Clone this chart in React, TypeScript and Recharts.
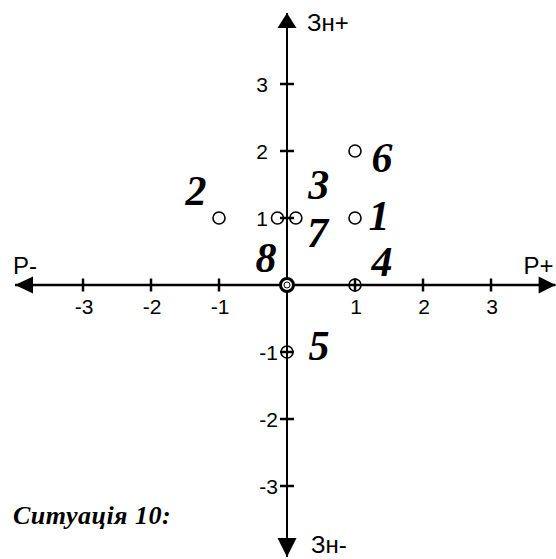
import React from 'react';
import { ScatterChart, Scatter, XAxis, YAxis } from 'recharts';

// tick values on both axes (0 is the crossing, no tick there)
const xTickValues = [-3, -2, -1, 1, 2, 3];
const yTickValues = [-3, -2, -1, 1, 2, 3];

// situation points
const pointNames = ['1', '2', '3', '4', '5', '6', '7', '8'];
const pointX = [1, -1, 0.13, 1, 0, 1, -0.14, 0];
const pointY = [1, 1, 1, 0, -1, 2, 1, 0];

// axis ends (arrow tips) and their names
const axisEndDirs = ['left', 'right', 'up', 'down'];
const axisEndX = [-4.0, 3.95, 0, 0];
const axisEndY = [0, 0, 4.06, -4.06];
const axisNames = ['Р-', 'Р+', 'Зн+', 'Зн-'];

const caption = 'Ситуація 10:';

const W = 556;
const H = 559;

const points = pointNames.map((name, i) => ({ name, x: pointX[i], y: pointY[i] }));
const xTicks = xTickValues.map((v) => ({ x: v, y: 0, label: String(v) }));
const yTicks = yTickValues.map((v) => ({ x: 0, y: v, label: String(v) }));
const axisEnds = axisEndDirs.map((dir, i) => ({ dir, x: axisEndX[i], y: axisEndY[i], name: axisNames[i] }));
const hLine = [axisEnds[0], axisEnds[1]];
const vLine = [axisEnds[2], axisEnds[3]];

const sans = '"Liberation Sans", Arial, sans-serif';
const serif = '"Liberation Serif", "Times New Roman", serif';

// where each number sits relative to its circle
const labelOffset: Record<string, [number, number]> = {
  '1': [24, -2],
  '2': [-23, -27],
  '3': [23, -33],
  '4': [27, -23],
  '5': [32, -6],
  '6': [27, 7],
  '7': [40, 15],
  '8': [-21, -27],
};

const Nothing = () => <g />;

const XTick = (props: any) => {
  const { cx, cy, payload } = props;
  return (
    <g>
      <line x1={cx} x2={cx} y1={cy - 6.5} y2={cy + 6.5} stroke="#000" strokeWidth={2.5} />
      <text x={cx + 1} y={cy + 21} textAnchor="middle" dominantBaseline="central"
        fontFamily={sans} fontSize={21} fill="#000">
        {payload.label}
      </text>
    </g>
  );
};

const YTick = (props: any) => {
  const { cx, cy, payload } = props;
  const neg = payload.y < 0;
  return (
    <g>
      <line x1={cx - 7} x2={cx + 7} y1={cy} y2={cy} stroke="#000" strokeWidth={2.5} />
      <text x={neg ? cx - 9 : cx - 19} y={cy} textAnchor="end" dominantBaseline="central"
        fontFamily={sans} fontSize={21} fill="#000">
        {payload.label}
      </text>
    </g>
  );
};

const Arrow = (props: any) => {
  const { cx, cy, payload } = props;
  let pts = '';
  let tx = 0;
  let ty = 0;
  if (payload.dir === 'left') {
    pts = `${cx},${cy} ${cx + 18},${cy - 8.5} ${cx + 18},${cy + 8.5}`;
    tx = cx - 2; ty = cy - 20;
  } else if (payload.dir === 'right') {
    pts = `${cx},${cy} ${cx - 17},${cy - 8.5} ${cx - 17},${cy + 8.5}`;
    tx = cx - 32; ty = cy - 20;
  } else if (payload.dir === 'up') {
    pts = `${cx},${cy} ${cx - 9.5},${cy + 15} ${cx + 9.5},${cy + 15}`;
    tx = cx + 20; ty = cy + 10;
  } else {
    pts = `${cx},${cy} ${cx - 9.5},${cy - 19} ${cx + 9.5},${cy - 19}`;
    tx = cx + 24; ty = cy - 13;
  }
  return (
    <g>
      <polygon points={pts} fill="#000" />
      <text x={tx} y={ty} dominantBaseline="central" fontFamily={sans} fontSize={24} fill="#000">
        {payload.name}
      </text>
    </g>
  );
};

const PointMark = (props: any) => {
  const { cx, cy, payload } = props;
  const [dx, dy] = labelOffset[payload.name] || [20, -20];
  return (
    <g>
      {payload.name === '8' ? (
        <>
          <circle cx={cx} cy={cy} r={6.5} fill="#fff" stroke="#000" strokeWidth={3} />
          <circle cx={cx} cy={cy} r={3} fill="none" stroke="#000" strokeWidth={1} />
        </>
      ) : (
        <circle cx={cx} cy={cy} r={6} fill="none" stroke="#000" strokeWidth={1.6} />
      )}
      <text x={cx + dx} y={cy + dy} textAnchor="middle" dominantBaseline="central"
        fontFamily={serif} fontStyle="italic" fontWeight="bold" fontSize={42} fill="#000">
        {payload.name}
      </text>
    </g>
  );
};

export default function App() {
  // 68 px per unit horizontally (0 at x=287), 67 px vertically (0 at y=285)
  const xDomain = [-287 / 68, (W - 287) / 68];
  const yDomain = [(285 - H) / 67, 285 / 67];
  return (
    <div style={{ position: 'absolute', left: 0, top: 0, width: W, height: H, background: '#fff' }}>
      <ScatterChart width={W} height={H} margin={{ top: 0, right: 0, bottom: 0, left: 0 }}>
        <XAxis type="number" dataKey="x" domain={xDomain} allowDataOverflow hide />
        <YAxis type="number" dataKey="y" domain={yDomain} allowDataOverflow hide />
        <Scatter data={hLine} line={{ stroke: '#000', strokeWidth: 2.5 }} shape={Nothing} isAnimationActive={false} />
        <Scatter data={vLine} line={{ stroke: '#000', strokeWidth: 2 }} shape={Nothing} isAnimationActive={false} />
        <Scatter data={xTicks} shape={XTick} isAnimationActive={false} />
        <Scatter data={yTicks} shape={YTick} isAnimationActive={false} />
        <Scatter data={axisEnds} shape={Arrow} isAnimationActive={false} />
        <Scatter data={points} shape={PointMark} isAnimationActive={false} />
      </ScatterChart>
      <div style={{
        position: 'absolute', left: 13, top: 501, fontFamily: serif, fontStyle: 'italic',
        fontWeight: 'bold', fontSize: 26, letterSpacing: 0.5, color: '#000', whiteSpace: 'nowrap',
      }}>
        {caption}
      </div>
    </div>
  );
}
